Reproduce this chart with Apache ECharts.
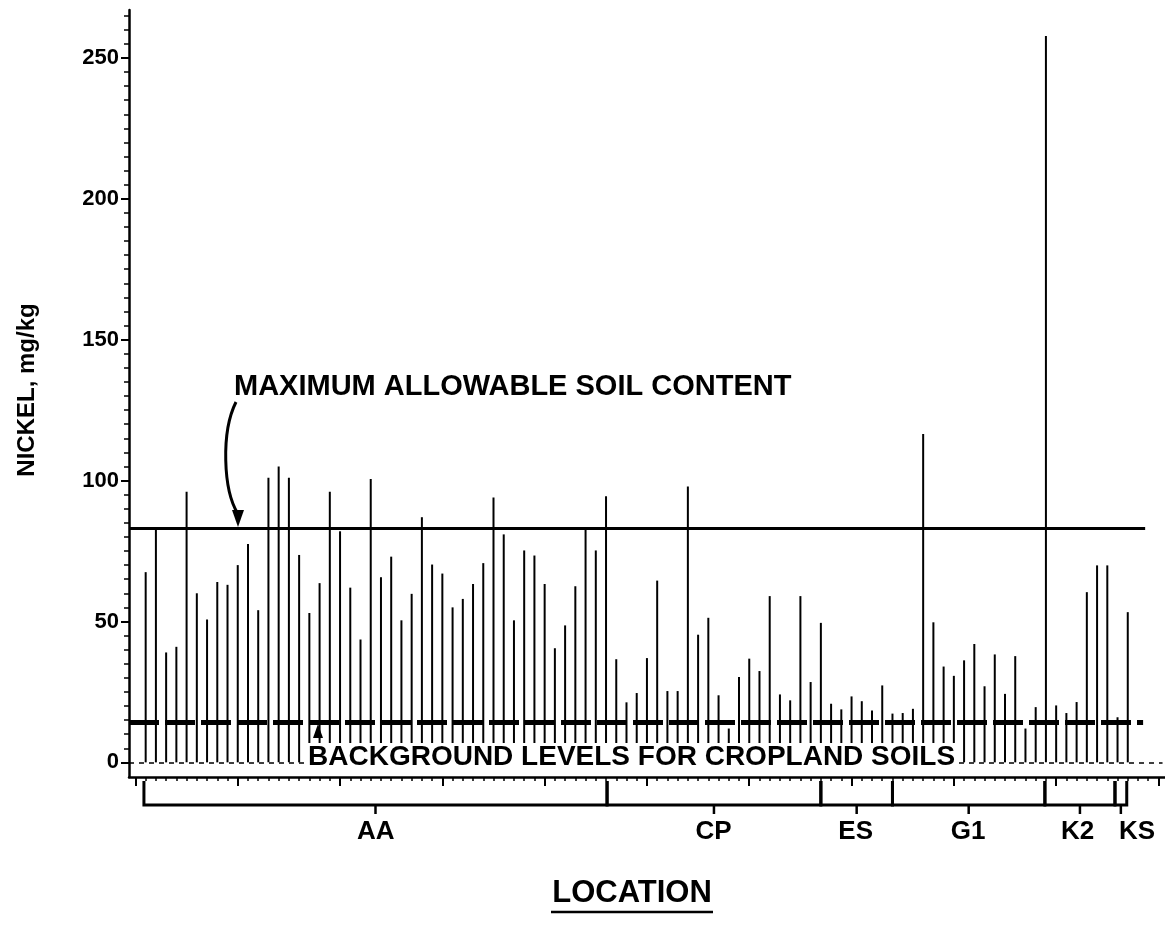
<!DOCTYPE html>
<html><head><meta charset="utf-8">
<script src="https://cdn.jsdelivr.net/npm/echarts@6/dist/echarts.min.js"></script>
<style>html,body{margin:0;padding:0;background:#fff}#c{width:1165px;height:927px}</style>
</head><body><div id="c"></div>
<script>
// Nickel concentration per sample (mg/kg), in plotting order
const nickel = [
  67.5, 83, 39, 41, 96, 60, 50.7, 64, 63, 70,
  77.5, 54, 101, 105, 101, 73.6, 53, 63.6, 96, 82,
  62, 43.6, 100.6, 65.7, 73, 50.4, 59.8, 87, 70.2, 67,
  55, 58, 63.3, 70.7, 94, 80.9, 50.4, 75.2, 73.4, 63.3,
  40.5, 48.6, 62.5, 83.5, 75.2, 94.4, 36.6, 21.3, 24.6, 37,
  64.5, 25.3, 25.3, 97.9, 45.3, 51.3, 23.8, 12, 30.3, 36.8,
  32.4, 59, 24.1, 22, 59, 28.5, 49.5, 20.8, 18.8, 23.4,
  21.7, 18.4, 27.3, 17.3, 17.5, 19, 116.5, 49.7, 34, 30.7,
  36.2, 42, 27, 38.3, 24.3, 37.7, 12, 19.6, 257.8, 20.2,
  17.5, 21.4, 60.4, 69.9, 69.9, 16, 53.3
];
// Location groups (extent in sample-index units)
const groupNames = ['AA', 'CP', 'ES', 'G1', 'K2', 'KS'];
const groupBounds = [-0.17, 45.1, 66.0, 73.0, 87.9, 94.75, 95.9];
const groupLabelAt = [22.5, 55.5, 69.4, 80.4, 91.1, 96.9];
// Reference levels (mg/kg)
const maxAllowable = 83;
const backgroundLevel = 14.2;
const yTickLabels = [0, 50, 100, 150, 200, 250];

const FONT = '"Liberation Sans", Arial, Helvetica, sans-serif';
const xMin = -1.63, xMax = 99.64;
const yMin = -5.2, yMax = 267;
const refLineEnd = 97.7, bgLineEnd = 97.5, zeroLineEnd = 99.4;

const xMajor = [], xMinor = [], yMinor = [];
for (let v = -1; v <= 99; v += 10) xMajor.push(v);
for (let v = -1; v <= 99; v += 1) xMinor.push(v);
for (let v = 0; v <= 265; v += 5) yMinor.push(v);

const chart = echarts.init(document.getElementById('c'));
const needleData = nickel.map((v, i) => [i, v]);
const groupData = groupNames.map((n, k) => [groupBounds[k], groupBounds[k + 1], groupLabelAt[k], 0]);

const black = '#000';
const option = {
  animation: false,
  backgroundColor: '#fff',
  grid: { left: 129, right: 0, top: 10, bottom: 150 },
  xAxis: [
    { type: 'value', min: xMin, max: xMax,
      axisLine: { show: true, onZero: false, lineStyle: { color: black, width: 2.5 } },
      axisTick: { show: true, customValues: xMajor, length: 9, lineStyle: { color: black, width: 2 } },
      axisLabel: { show: false }, splitLine: { show: false } },
    { type: 'value', min: xMin, max: xMax, position: 'bottom',
      axisLine: { show: false, onZero: false },
      axisTick: { show: true, customValues: xMinor, length: 4, lineStyle: { color: black, width: 1.5 } },
      axisLabel: { show: false }, splitLine: { show: false } }
  ],
  yAxis: [
    { type: 'value', min: yMin, max: yMax,
      axisLine: { show: true, onZero: false, lineStyle: { color: black, width: 2.5 } },
      axisTick: { show: true, customValues: yTickLabels, length: 8, lineStyle: { color: black, width: 2 } },
      axisLabel: { customValues: yTickLabels, color: black, fontFamily: FONT, fontWeight: 'bold', fontSize: 22, margin: 10 },
      splitLine: { show: false } },
    { type: 'value', min: yMin, max: yMax, position: 'left',
      axisLine: { show: false, onZero: false },
      axisTick: { show: true, customValues: yMinor, length: 5, lineStyle: { color: black, width: 1.5 } },
      axisLabel: { show: false }, splitLine: { show: false } }
  ],
  series: [
    { type: 'bar', xAxisIndex: 0, yAxisIndex: 0, data: needleData, barWidth: 2,
      itemStyle: { color: black },
      markLine: {
        silent: true, symbol: 'none', label: { show: false },
        data: [
          [ { coord: [xMin, maxAllowable], lineStyle: { color: black, width: 3, type: 'solid' } },
            { coord: [refLineEnd, maxAllowable] } ],
          [ { coord: [xMin, backgroundLevel], lineStyle: { color: black, width: 5, type: [30, 6] } },
            { coord: [bgLineEnd, backgroundLevel] } ],
          [ { coord: [xMin, 0], lineStyle: { color: black, width: 1.5, type: [5, 5] } },
            { coord: [zeroLineEnd, 0] } ]
        ]
      } },
    { type: 'custom', xAxisIndex: 0, yAxisIndex: 0, clip: false, silent: true,
      data: groupData,
      renderItem: function (params, api) {
        const x0 = api.coord([api.value(0), 0])[0];
        const x1 = api.coord([api.value(1), 0])[0];
        const xl = api.coord([api.value(2), 0])[0];
        const base = params.coordSys.y + params.coordSys.height;
        const yb = base + 28;
        const xc = (x0 + x1) / 2;
        return { type: 'group', children: [
          { type: 'polyline', shape: { points: [[x0, base + 4], [x0, yb], [x1, yb], [x1, base + 4]] },
            style: { stroke: black, lineWidth: 3, fill: null } },
          { type: 'line', shape: { x1: xc, y1: yb, x2: xc, y2: yb + 9 },
            style: { stroke: black, lineWidth: 2.5 } },
          { type: 'text', x: xl, y: yb + 27,
            style: { text: groupNames[params.dataIndex], fill: black, font: 'bold 26px ' + FONT,
                     align: 'center', verticalAlign: 'middle' } }
        ] };
      } }
  ],
  graphic: [
    { type: 'text', z: 100, x: 27, y: 390, rotation: Math.PI / 2,
      style: { text: 'NICKEL, mg/kg', fill: black, font: 'bold 24px ' + FONT, align: 'center', verticalAlign: 'middle' } },
    { type: 'text', z: 100, x: 234, y: 387,
      style: { text: 'MAXIMUM ALLOWABLE SOIL CONTENT', fill: black, font: 'bold 29px ' + FONT, align: 'left', verticalAlign: 'middle' } },
    { type: 'bezierCurve', z: 100,
      shape: { x1: 236, y1: 402, cpx1: 221, cpy1: 432, cpx2: 223, cpy2: 490, x2: 238, y2: 514 },
      style: { stroke: black, lineWidth: 3, fill: null } },
    { type: 'polygon', z: 100, shape: { points: [[232, 510], [244, 510], [238, 527]] }, style: { fill: black } },
    { type: 'rect', z: 99, shape: { x: 305, y: 743, width: 653, height: 27 }, style: { fill: '#fff' } },
    { type: 'text', z: 100, x: 308, y: 757,
      style: { text: 'BACKGROUND LEVELS FOR CROPLAND SOILS', fill: black, font: 'bold 28px ' + FONT, align: 'left', verticalAlign: 'middle' } },
    { type: 'polygon', z: 100, shape: { points: [[318, 724], [313, 738], [323, 738]] }, style: { fill: black } },
    { type: 'text', z: 100, x: 632, y: 893,
      style: { text: 'LOCATION', fill: black, font: 'bold 31px ' + FONT, align: 'center', verticalAlign: 'middle' } },
    { type: 'line', z: 100, shape: { x1: 551, y1: 912, x2: 713, y2: 912 }, style: { stroke: black, lineWidth: 2.5 } }
  ]
};
chart.setOption(option);
</script>
</body></html>
